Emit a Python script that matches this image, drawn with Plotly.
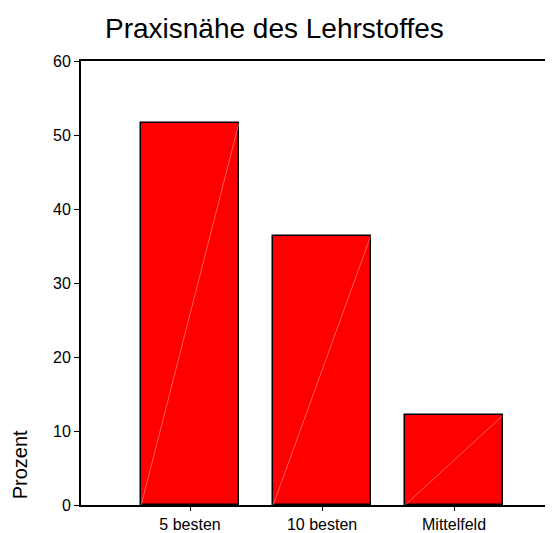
import plotly.graph_objects as go

categories = ['5 besten', '10 besten', 'Mittelfeld']
percent = [51.6, 36.4, 12.1]

positions = list(range(len(categories)))
bar_width = 0.74

fig = go.Figure()
fig.add_trace(go.Bar(
    x=positions,
    y=percent,
    width=bar_width,
    marker=dict(color='#ff0000', line=dict(color='black', width=1.5)),
    showlegend=False,
    hoverinfo='skip',
))

# faint diagonal highlight inside each bar, as in the original rendering
for p, v in zip(positions, percent):
    fig.add_trace(go.Scatter(
        x=[p - bar_width / 2, p + bar_width / 2],
        y=[0, v],
        mode='lines',
        line=dict(color='rgba(255,190,190,0.7)', width=0.7),
        showlegend=False,
        hoverinfo='skip',
    ))

fig.update_layout(
    width=560, height=533,
    margin=dict(l=81, r=15, t=61, b=28),
    paper_bgcolor='white',
    plot_bgcolor='white',
    font=dict(family='Liberation Sans, Arial, sans-serif', color='black', size=16),
    title=dict(text='Praxisnähe des Lehrstoffes', x=0.49, xanchor='center',
               y=0.947, yanchor='middle', font=dict(size=28)),
    xaxis=dict(
        tickvals=positions, ticktext=categories,
        range=[-0.826, 2.689],
        showline=True, linecolor='black', linewidth=2, mirror=True,
        ticks='outside', ticklen=4, tickcolor='black', tickwidth=1,
        tickfont=dict(size=16),
        showgrid=False, zeroline=False, fixedrange=True, automargin=False,
    ),
    yaxis=dict(
        range=[0, 60], tickvals=[0, 10, 20, 30, 40, 50, 60],
        showline=True, linecolor='black', linewidth=2, mirror=False,
        ticks='outside', ticklen=5, tickcolor='black', tickwidth=1,
        tickfont=dict(size=16),
        showgrid=False, zeroline=False, fixedrange=True, automargin=False,
    ),
    bargap=0,
)

fig.add_annotation(
    text='Prozent', textangle=-90,
    xref='paper', yref='paper', x=-0.131, y=0.09,
    xanchor='center', yanchor='middle',
    showarrow=False, font=dict(size=20),
)

fig.write_html('out.html', config={'displayModeBar': False},
               post_script="document.body.style.margin='0';")
